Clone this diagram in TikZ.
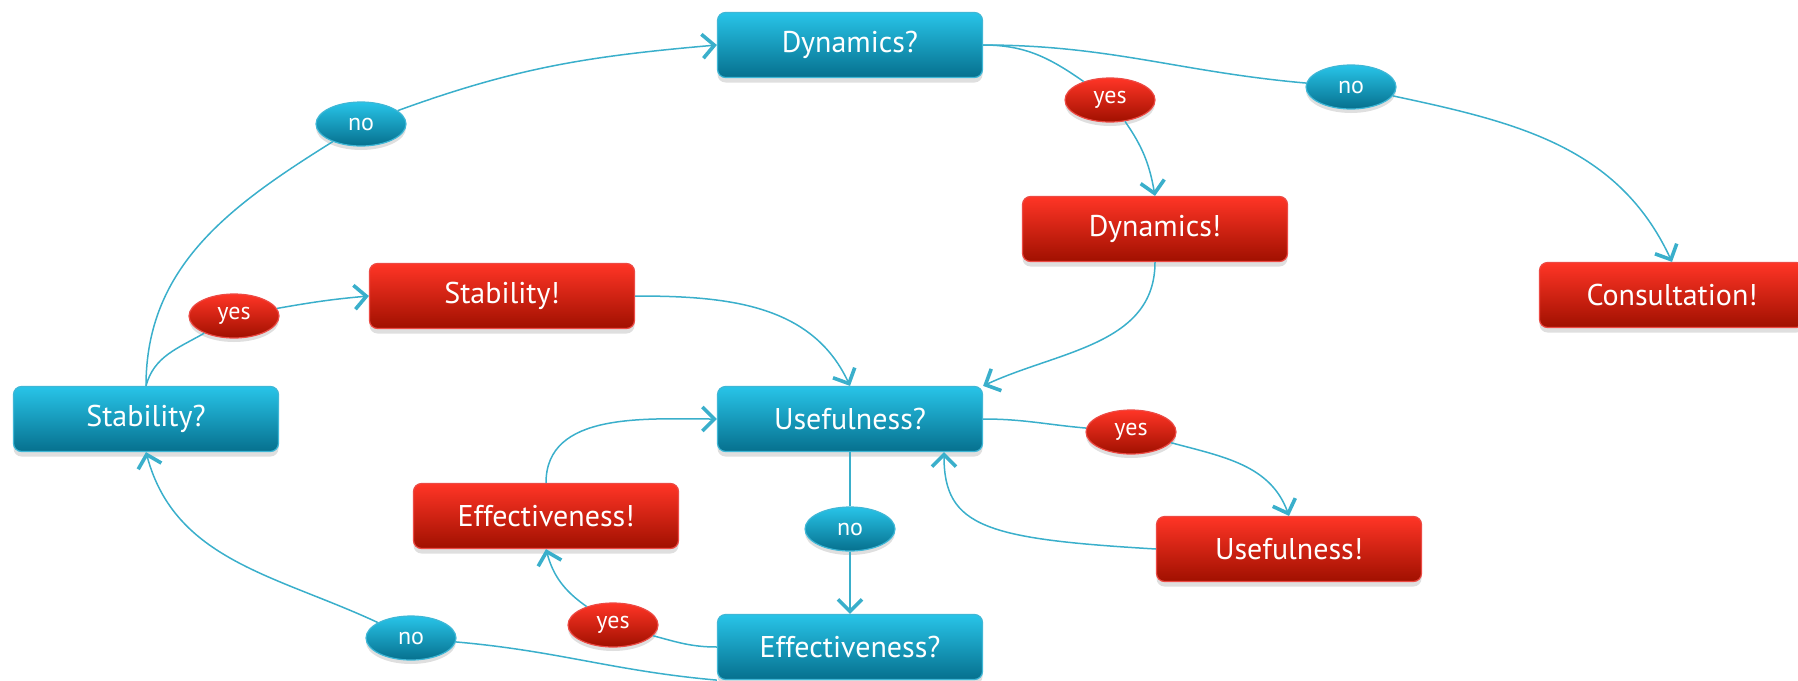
\documentclass[tikz,border=0pt]{standalone}
\usepackage{fontspec}
\setmainfont{PT Sans}
\usetikzlibrary{arrows.meta,shapes.geometric,shadows}

\definecolor{bluetop}{HTML}{28C4E8}
\definecolor{bluebot}{HTML}{06708E}
\definecolor{blueline}{HTML}{3FB7D6}
\definecolor{redtop}{HTML}{FF3526}
\definecolor{redbot}{HTML}{A01000}
\definecolor{redline}{HTML}{EC4A44}
\definecolor{wire}{HTML}{3AAFCB}

\begin{document}
\begin{tikzpicture}[x=0.5pt,y=-0.5pt]
	\tikzstyle{box}=[rectangle, rounded corners=4pt, minimum width=132.5pt, minimum height=32.5pt,
		inner sep=0pt, text=white, font=\fontsize{15}{18}\selectfont, line width=0.6pt,
		drop shadow={opacity=0.25, shadow xshift=0pt, shadow yshift=-2.5pt}]
	\tikzstyle{lab}=[ellipse, minimum width=45pt, minimum height=22pt, inner sep=0pt,
		text=white, font=\fontsize{12}{14}\selectfont, line width=0.6pt,
		drop shadow={opacity=0.25, shadow xshift=0pt, shadow yshift=-2pt}]
	\tikzstyle{ask}=[top color=bluetop, bottom color=bluebot, draw=blueline]
	\tikzstyle{say}=[top color=redtop, bottom color=redbot, draw=redline]
	\tikzstyle{wire}=[draw=wire, line width=0.75pt]
	\tikzstyle{tip}=[-{Straight Barb[length=6pt,width=12pt,line width=1.8pt]}]

	\useasboundingbox (0,0) rectangle (1798,680);

	% questions
	\node[box,ask] (dynq) at (850,45) {Dynamics?};
	\node[box,ask] (stabq) at (146,419) {Stability?};
	\node[box,ask] (usefq) at (850,419) {Usefulness?};
	\node[box,ask] (effq) at (850,647) {Effectiveness?};

	% answers
	\node[box,say] (dynx) at (1155,229) {Dynamics!};
	\node[box,say] (consx) at (1672,295) {Consultation!};
	\node[box,say] (stabx) at (502,296) {Stability!};
	\node[box,say] (effx) at (546,516) {Effectiveness!};
	\node[box,say] (usefx) at (1289,549) {Usefulness!};

	% labels
	\node[lab,ask] (no1) at (361,124) {no};
	\node[lab,say] (yes1) at (234,316) {yes};
	\node[lab,say] (yes2) at (1110,100) {yes};
	\node[lab,ask] (no2) at (1351,87) {no};
	\node[lab,say] (yes3) at (1131,432) {yes};
	\node[lab,ask] (no3) at (850,529) {no};
	\node[lab,say] (yes4) at (613,625) {yes};
	\node[lab,ask] (no4) at (411,638) {no};

	\foreach \from/\to/\o/\i in {stabq.north/no1/90/212, stabq.north/yes1/75/210,
		dynq.east/yes2/0/145, dynq.east/no2/0/175, usefq.east/yes3/0/175,
		usefq.south/no3/-90/90, effq.west/yes4/180/-15, effq.south west/no4/175/-5}
	\draw [wire] (\from) to[out=\o,in=\i] (\to);

	\foreach \from/\to/\o/\i in {no1/dynq.west/20/185, yes1/stabx.west/10/185,
		stabx.east/usefq.north/0/115, dynx.south/usefq.north east/-90/25,
		yes2/dynx.north/-55/100, no2/consx.north/-12/115, yes3/usefx.north/-15/110,
		no3/effq.north/-90/90, yes4/effx.south/145/-75, effx.north/usefq.west/90/180,
		no4/stabq.south/155/-75}
	\draw [wire,tip] (\from) to[out=\o,in=\i] (\to);

	\draw [wire,tip] (usefx.west) .. controls +(-170,-10) and +(0,75) .. ([xshift=47pt]usefq.south);
\end{tikzpicture}
\end{document}
